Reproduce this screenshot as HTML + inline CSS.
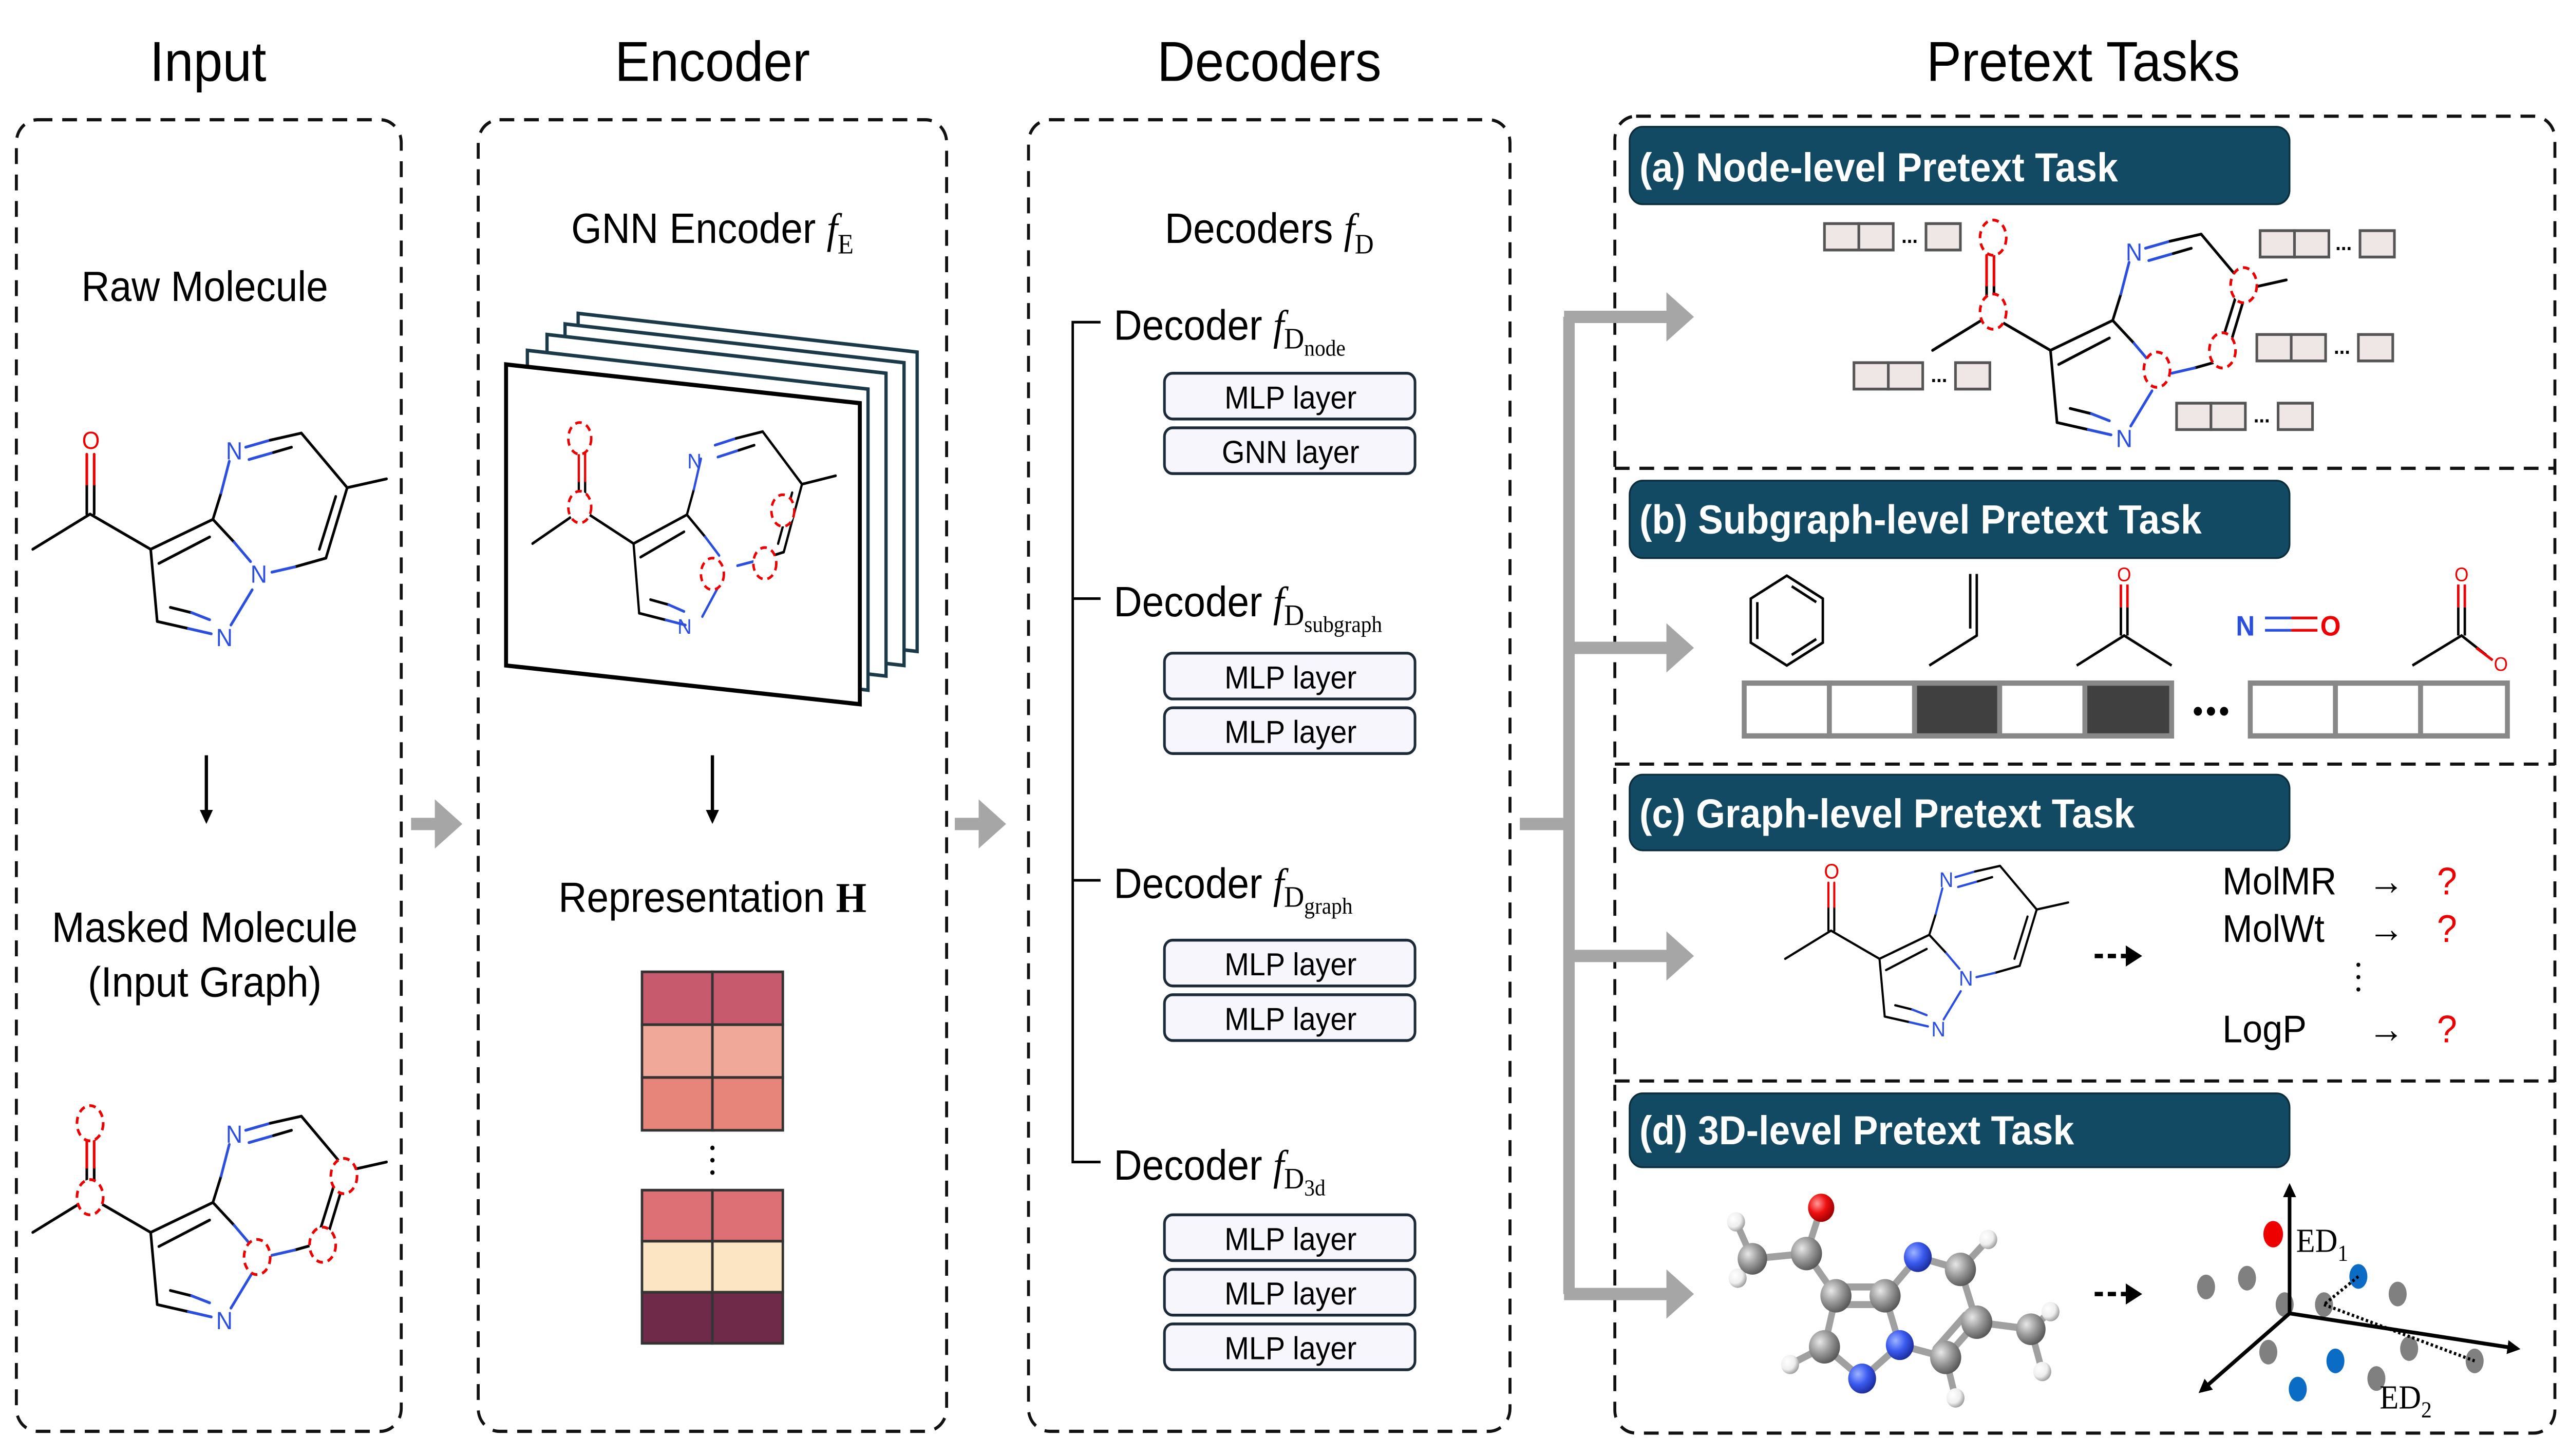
<!DOCTYPE html>
<html><head><meta charset="utf-8"><style>
html,body{margin:0;padding:0;background:#fff;overflow:hidden;width:100vw;height:100vh}
svg{display:block;position:fixed;left:0;top:0;width:100vw;height:100vh}
text{font-family:"Liberation Sans",sans-serif}
.ser{font-family:"Liberation Serif","DejaVu Serif",serif}
</style></head><body>
<svg viewBox="0 0 1568 827" preserveAspectRatio="none" xmlns="http://www.w3.org/2000/svg">
<defs>
<g id="mol" fill="none" stroke-width="1.6" stroke-linecap="round">
  <line x1="20" y1="312" x2="55" y2="292" stroke="#000"/>
  <line x1="53" y1="292" x2="53" y2="275" stroke="#000"/>
  <line x1="53" y1="275" x2="53" y2="258" stroke="#e00"/>
  <line x1="57.5" y1="292" x2="57.5" y2="275" stroke="#000"/>
  <line x1="57.5" y1="275" x2="57.5" y2="258" stroke="#e00"/>
  <line x1="55" y1="292" x2="92" y2="312" stroke="#000"/>
  <line x1="92" y1="312" x2="130" y2="295" stroke="#000"/>
  <line x1="97" y1="320" x2="128" y2="305" stroke="#000"/>
  <line x1="130" y1="295" x2="135" y2="280" stroke="#000"/>
  <line x1="135" y1="280" x2="140" y2="262" stroke="#2a4fe0"/>
  <line x1="150" y1="254" x2="165" y2="250" stroke="#2a4fe0"/>
  <line x1="165" y1="250" x2="184" y2="246" stroke="#000"/>
  <line x1="152" y1="261" x2="167" y2="257" stroke="#2a4fe0"/>
  <line x1="167" y1="257" x2="178" y2="254" stroke="#000"/>
  <line x1="184" y1="246" x2="212" y2="277" stroke="#000"/>
  <line x1="212" y1="277" x2="236" y2="272" stroke="#000"/>
  <line x1="212" y1="277" x2="199" y2="317" stroke="#000"/>
  <line x1="205" y1="282" x2="195" y2="312" stroke="#000"/>
  <line x1="199" y1="317" x2="180" y2="322" stroke="#000"/>
  <line x1="180" y1="322" x2="166" y2="325" stroke="#2a4fe0"/>
  <line x1="130" y1="295" x2="143" y2="308" stroke="#000"/>
  <line x1="143" y1="308" x2="153" y2="319" stroke="#2a4fe0"/>
  <line x1="154" y1="335" x2="141" y2="355" stroke="#2a4fe0"/>
  <line x1="96" y1="353" x2="115" y2="357" stroke="#000"/>
  <line x1="115" y1="357" x2="129" y2="360" stroke="#2a4fe0"/>
  <line x1="104" y1="345" x2="117" y2="348" stroke="#000"/>
  <line x1="117" y1="348" x2="128" y2="352" stroke="#2a4fe0"/>
  <line x1="96" y1="353" x2="92" y2="312" stroke="#000"/>
</g>
<marker id="gh" markerWidth="4" markerHeight="4" refX="1.5" refY="2" orient="auto" markerUnits="strokeWidth"><path d="M0,0 L2.4,2 L0,4 Z" fill="#a6a6a6"/></marker>
<marker id="bh" markerWidth="8" markerHeight="8" refX="6" refY="4" orient="auto" markerUnits="userSpaceOnUse"><path d="M0,0 L8,4 L0,8 Z" fill="#000"/></marker>
<radialGradient id="gG" cx="0.35" cy="0.35" r="0.7"><stop offset="0" stop-color="#e8e8e8"/><stop offset="0.5" stop-color="#9a9a9a"/><stop offset="1" stop-color="#555"/></radialGradient>
<radialGradient id="gB" cx="0.35" cy="0.35" r="0.7"><stop offset="0" stop-color="#9fb4ff"/><stop offset="0.5" stop-color="#3b5cf0"/><stop offset="1" stop-color="#1a2a9a"/></radialGradient>
<radialGradient id="gR" cx="0.35" cy="0.35" r="0.7"><stop offset="0" stop-color="#ff9a9a"/><stop offset="0.5" stop-color="#ee1010"/><stop offset="1" stop-color="#900"/></radialGradient>
<radialGradient id="gW" cx="0.35" cy="0.35" r="0.7"><stop offset="0" stop-color="#fff"/><stop offset="0.6" stop-color="#eee"/><stop offset="1" stop-color="#999"/></radialGradient>
</defs>

<!-- Titles -->
<g font-size="32" text-anchor="middle" fill="#000">
<text x="127" y="46">Input</text>
<text x="435" y="46">Encoder</text>
<text x="775" y="46">Decoders</text>
<text x="1272" y="46">Pretext Tasks</text>
</g>

<!-- Panels -->
<g fill="none" stroke="#111" stroke-width="1.8" stroke-dasharray="9 6">
<rect x="10" y="68" width="235" height="745" rx="13"/>
<rect x="292" y="68" width="286" height="745" rx="13"/>
<rect x="628" y="68" width="294" height="745" rx="13"/>
<rect x="986" y="66" width="574" height="748" rx="13"/>
<line x1="986" y1="266" x2="1560" y2="266"/>
<line x1="986" y1="434" x2="1560" y2="434"/>
<line x1="986" y1="614" x2="1560" y2="614"/>
</g>

<!-- Input panel -->
<text x="125" y="171" font-size="24" text-anchor="middle">Raw Molecule</text>
<use href="#mol"/>
<g font-size="14" text-anchor="middle">
<text x="55.5" y="255" fill="#e00">O</text>
<text x="143" y="261" fill="#2a4fe0">N</text>
<text x="158" y="331" fill="#2a4fe0">N</text>
<text x="137" y="367" fill="#2a4fe0">N</text>
</g>
<line x1="126" y1="429" x2="126" y2="466" stroke="#000" stroke-width="2" marker-end="url(#bh)"/>
<text x="125" y="535" font-size="24" text-anchor="middle">Masked Molecule</text>
<text x="125" y="566" font-size="24" text-anchor="middle">(Input Graph)</text>
<g transform="translate(0,388)"><use href="#mol"/>
<g font-size="14" text-anchor="middle">
<text x="143" y="261" fill="#2a4fe0">N</text>
<text x="137" y="367" fill="#2a4fe0">N</text>
</g>
<g fill="#fff" stroke="#e00" stroke-width="1.6" stroke-dasharray="4 3">
<ellipse cx="55" cy="250" rx="8" ry="10"/>
<ellipse cx="55" cy="292" rx="8" ry="10"/>
<ellipse cx="157" cy="326" rx="8" ry="10"/>
<ellipse cx="197" cy="319" rx="8" ry="10"/>
<ellipse cx="210" cy="280" rx="8" ry="10"/>
</g></g>

<!-- Gray arrows between panels -->
<g stroke="#a6a6a6" stroke-width="7" fill="none">
<line x1="251" y1="468" x2="276" y2="468" marker-end="url(#gh)"/>
<line x1="583" y1="468" x2="608" y2="468" marker-end="url(#gh)"/>
<line x1="928" y1="468" x2="958" y2="468"/>
<line x1="958" y1="180" x2="958" y2="735"/>
<line x1="955" y1="180" x2="1028" y2="180" marker-end="url(#gh)"/>
<line x1="955" y1="368" x2="1028" y2="368" marker-end="url(#gh)"/>
<line x1="955" y1="543" x2="1028" y2="543" marker-end="url(#gh)"/>
<line x1="955" y1="735" x2="1028" y2="735" marker-end="url(#gh)"/>
</g>

<!-- Encoder -->
<text x="435" y="138" font-size="24" text-anchor="middle">GNN Encoder <tspan class="ser" font-style="italic">f</tspan><tspan class="ser" font-size="16" dy="6">E</tspan></text>
<g fill="#fff" stroke="#1a3a4a" stroke-width="2">
<polygon points="353,178 560,200 560,370 353,348"/>
<polygon points="345,184 552,206 552,378 345,356"/>
<polygon points="334,190 541,212 541,384 334,362"/>
<polygon points="322,199 530,221 530,392 322,370"/>
</g>
<polygon points="309,207 525,229 525,400 309,378" fill="#fff" stroke="#000" stroke-width="2.4"/>
<g transform="translate(308,8) scale(0.857,0.964)"><use href="#mol"/></g>
<g font-size="12" text-anchor="middle" fill="#2a4fe0">
<text x="424" y="266">N</text>
<text x="418" y="360">N</text>
</g>
<g fill="#fff" stroke="#e00" stroke-width="1.5" stroke-dasharray="4 3">
<ellipse cx="354" cy="249" rx="7" ry="9"/>
<ellipse cx="354" cy="288" rx="7" ry="9"/>
<ellipse cx="435" cy="326" rx="7" ry="9"/>
<ellipse cx="467" cy="320" rx="7" ry="9"/>
<ellipse cx="478" cy="290" rx="7" ry="9"/>
</g>
<line x1="435" y1="429" x2="435" y2="466" stroke="#000" stroke-width="2" marker-end="url(#bh)"/>
<text x="435" y="518" font-size="24" text-anchor="middle">Representation <tspan class="ser" font-weight="bold">H</tspan></text>
<g stroke="#333" stroke-width="1.5">
<rect x="392" y="552" width="43" height="30" fill="#c85a6e"/><rect x="435" y="552" width="43" height="30" fill="#c85a6e"/>
<rect x="392" y="582" width="43" height="30" fill="#f0a898"/><rect x="435" y="582" width="43" height="30" fill="#f0a898"/>
<rect x="392" y="612" width="43" height="30" fill="#e8857a"/><rect x="435" y="612" width="43" height="30" fill="#e8857a"/>
<rect x="392" y="676" width="43" height="29" fill="#dc7075"/><rect x="435" y="676" width="43" height="29" fill="#dc7075"/>
<rect x="392" y="705" width="43" height="29" fill="#fbe5c3"/><rect x="435" y="705" width="43" height="29" fill="#fbe5c3"/>
<rect x="392" y="734" width="43" height="29" fill="#6e2a48"/><rect x="435" y="734" width="43" height="29" fill="#6e2a48"/>
</g>
<g fill="#000"><circle cx="435" cy="652" r="1.3"/><circle cx="435" cy="659" r="1.3"/><circle cx="435" cy="666" r="1.3"/></g>

<!-- Decoders -->
<text x="775" y="138" font-size="24" text-anchor="middle">Decoders <tspan class="ser" font-style="italic">f</tspan><tspan class="ser" font-size="16" dy="6">D</tspan></text>
<path d="M672,183 H655 V660 H672 M655,340 H672 M655,500 H672" fill="none" stroke="#000" stroke-width="1.5"/>
<g font-size="24">
<text x="680" y="193">Decoder <tspan class="ser" font-style="italic">f</tspan><tspan class="ser" font-size="17" dy="5">D</tspan><tspan class="ser" font-size="13" dy="4">node</tspan></text>
<text x="680" y="350">Decoder <tspan class="ser" font-style="italic">f</tspan><tspan class="ser" font-size="17" dy="5">D</tspan><tspan class="ser" font-size="13" dy="4">subgraph</tspan></text>
<text x="680" y="510">Decoder <tspan class="ser" font-style="italic">f</tspan><tspan class="ser" font-size="17" dy="5">D</tspan><tspan class="ser" font-size="13" dy="4">graph</tspan></text>
<text x="680" y="670">Decoder <tspan class="ser" font-style="italic">f</tspan><tspan class="ser" font-size="17" dy="5">D</tspan><tspan class="ser" font-size="13" dy="4">3d</tspan></text>
</g>
<g fill="#f8f6fd" stroke="#1a2a38" stroke-width="1.6">
<rect x="711" y="212" width="153" height="26" rx="5"/><rect x="711" y="243" width="153" height="26" rx="5"/>
<rect x="711" y="371" width="153" height="26" rx="5"/><rect x="711" y="402" width="153" height="26" rx="5"/>
<rect x="711" y="534" width="153" height="26" rx="5"/><rect x="711" y="565" width="153" height="26" rx="5"/>
<rect x="711" y="690" width="153" height="26" rx="5"/><rect x="711" y="721" width="153" height="26" rx="5"/><rect x="711" y="752" width="153" height="26" rx="5"/>
</g>
<g font-size="18" text-anchor="middle">
<text x="788" y="232">MLP layer</text><text x="788" y="263">GNN layer</text>
<text x="788" y="391">MLP layer</text><text x="788" y="422">MLP layer</text>
<text x="788" y="554">MLP layer</text><text x="788" y="585">MLP layer</text>
<text x="788" y="710">MLP layer</text><text x="788" y="741">MLP layer</text><text x="788" y="772">MLP layer</text>
</g>

<!-- Banners -->
<g fill="#124a63" stroke="#0b2c3b" stroke-width="1">
<rect x="995" y="72" width="403" height="44" rx="8"/>
<rect x="995" y="273" width="403" height="44" rx="8"/>
<rect x="995" y="440" width="403" height="43" rx="8"/>
<rect x="995" y="621" width="403" height="42" rx="8"/>
</g>
<g font-size="23" font-weight="bold" fill="#fff">
<text x="1001" y="103">(a) Node-level Pretext Task</text>
<text x="1001" y="303">(b) Subgraph-level Pretext Task</text>
<text x="1001" y="470">(c) Graph-level Pretext Task</text>
<text x="1001" y="650">(d) 3D-level Pretext Task</text>
</g>

<!-- (a) -->
<g transform="translate(1160,-113)"><use href="#mol"/>
<g font-size="14" text-anchor="middle" fill="#2a4fe0">
<text x="143" y="261">N</text><text x="137" y="367">N</text>
</g></g>
<g fill="#fff" stroke="#e00" stroke-width="1.6" stroke-dasharray="4 3">
<ellipse cx="1217" cy="135" rx="8" ry="10"/>
<ellipse cx="1217" cy="177" rx="8" ry="10"/>
<ellipse cx="1317" cy="210" rx="8" ry="10"/>
<ellipse cx="1357" cy="199" rx="8" ry="10"/>
<ellipse cx="1370" cy="162" rx="8" ry="10"/>
</g>
<g fill="#efe6e6" stroke="#555" stroke-width="1.6">
<rect x="1114" y="127" width="21" height="15"/><rect x="1135" y="127" width="21" height="15"/><rect x="1176" y="127" width="21" height="15"/>
<rect x="1380" y="131" width="21" height="15"/><rect x="1401" y="131" width="21" height="15"/><rect x="1441" y="131" width="21" height="15"/>
<rect x="1378" y="190" width="21" height="15"/><rect x="1399" y="190" width="21" height="15"/><rect x="1440" y="190" width="21" height="15"/>
<rect x="1132" y="206" width="21" height="15"/><rect x="1153" y="206" width="21" height="15"/><rect x="1194" y="206" width="21" height="15"/>
<rect x="1329" y="229" width="21" height="15"/><rect x="1350" y="229" width="21" height="15"/><rect x="1391" y="229" width="21" height="15"/>
</g>
<g font-size="12" text-anchor="middle" font-weight="bold">
<text x="1166" y="138">...</text><text x="1431" y="142">...</text><text x="1430" y="201">...</text><text x="1184" y="217">...</text><text x="1381" y="240">...</text>
</g>

<!-- (b) -->
<g fill="none" stroke="#000" stroke-width="1.5">
<polygon points="1091,327 1113,340 1113,365 1091,378 1069,365 1069,340"/>
<line x1="1094" y1="333" x2="1109" y2="342"/><line x1="1094" y1="372" x2="1109" y2="363"/><line x1="1073" y1="342" x2="1073" y2="363"/>
<polyline points="1178,378 1207,361 1207,326"/><line x1="1203" y1="357" x2="1203" y2="326"/>
<polyline points="1268,378 1297,361 1326,378"/>
<line x1="1295" y1="361" x2="1295" y2="345"/><line x1="1299" y1="361" x2="1299" y2="345"/>
<polyline points="1473,378 1503,361 1518,372"/>
<line x1="1501" y1="361" x2="1501" y2="345"/><line x1="1505" y1="361" x2="1505" y2="345"/>
</g>
<g stroke="#e00" stroke-width="1.5"><line x1="1295" y1="345" x2="1295" y2="332"/><line x1="1299" y1="345" x2="1299" y2="332"/>
<line x1="1501" y1="345" x2="1501" y2="332"/><line x1="1505" y1="345" x2="1505" y2="332"/><line x1="1512" y1="368" x2="1522" y2="375"/>
<line x1="1399" y1="351" x2="1415" y2="351"/><line x1="1399" y1="358" x2="1415" y2="358"/></g>
<g stroke="#2a4fe0" stroke-width="1.5"><line x1="1383" y1="351" x2="1399" y2="351"/><line x1="1383" y1="358" x2="1399" y2="358"/></g>
<g text-anchor="middle" fill="#e00" font-size="11">
<text x="1297" y="330">O</text><text x="1503" y="330">O</text><text x="1527" y="381">O</text>
</g>
<text x="1371" y="361" font-size="16" text-anchor="middle" fill="#2a4fe0" font-weight="bold">N</text>
<text x="1423" y="361" font-size="16" text-anchor="middle" fill="#e00" font-weight="bold">O</text>
<g stroke="#888" stroke-width="3">
<rect x="1065" y="388" width="52" height="30" fill="#fff"/><rect x="1117" y="388" width="52" height="30" fill="#fff"/>
<rect x="1169" y="388" width="52" height="30" fill="#404040"/><rect x="1221" y="388" width="52" height="30" fill="#fff"/>
<rect x="1273" y="388" width="53" height="30" fill="#404040"/>
<rect x="1374" y="388" width="52" height="30" fill="#fff"/><rect x="1426" y="388" width="52" height="30" fill="#fff"/><rect x="1478" y="388" width="53" height="30" fill="#fff"/>
</g>
<g fill="#000"><circle cx="1342" cy="404" r="2.5"/><circle cx="1350" cy="404" r="2.5"/><circle cx="1358" cy="404" r="2.5"/></g>

<!-- (c) -->
<g transform="translate(1074,295) scale(0.8)"><use href="#mol"/>
<g font-size="15" text-anchor="middle">
<text x="55.5" y="255" fill="#e00">O</text>
<text x="143" y="261" fill="#2a4fe0">N</text>
<text x="158" y="331" fill="#2a4fe0">N</text>
<text x="137" y="367" fill="#2a4fe0">N</text>
</g></g>
<line x1="1279" y1="543" x2="1300" y2="543" stroke="#000" stroke-width="2.5" stroke-dasharray="5 3"/>
<path d="M1298,537 L1308,543 L1298,549 Z" fill="#000"/>
<g font-size="22">
<text x="1357" y="508">MolMR</text><text x="1357" y="535">MolWt</text><text x="1357" y="592">LogP</text>
<text x="1446" y="508">→</text><text x="1446" y="535">→</text><text x="1446" y="592">→</text>
</g>
<g font-size="22" fill="#e00"><text x="1488" y="508">?</text><text x="1488" y="535">?</text><text x="1488" y="592">?</text></g>
<g fill="#000"><circle cx="1440" cy="548" r="1.2"/><circle cx="1440" cy="555" r="1.2"/><circle cx="1440" cy="562" r="1.2"/></g>

<!-- (d) 3D molecule -->
<g stroke="#a0a0a0" stroke-width="4" stroke-linecap="round">
<line x1="1103" y1="712" x2="1070" y2="715"/><line x1="1070" y1="715" x2="1060" y2="694"/><line x1="1070" y1="715" x2="1061" y2="726"/>
<line x1="1103" y1="712" x2="1112" y2="686"/><line x1="1103" y1="712" x2="1121" y2="736"/>
<line x1="1121" y1="731" x2="1151" y2="731"/><line x1="1121" y1="741" x2="1151" y2="741"/>
<line x1="1151" y1="736" x2="1171" y2="714"/><line x1="1171" y1="714" x2="1197" y2="721"/>
<line x1="1197" y1="721" x2="1214" y2="704"/><line x1="1197" y1="721" x2="1207" y2="751"/>
<line x1="1207" y1="751" x2="1240" y2="755"/><line x1="1240" y1="755" x2="1252" y2="745"/><line x1="1240" y1="755" x2="1247" y2="779"/>
<line x1="1207" y1="751" x2="1188" y2="771"/><line x1="1200" y1="747" x2="1182" y2="766"/>
<line x1="1188" y1="771" x2="1194" y2="794"/><line x1="1188" y1="771" x2="1160" y2="764"/>
<line x1="1151" y1="736" x2="1160" y2="764"/><line x1="1160" y1="764" x2="1137" y2="783"/>
<line x1="1137" y1="783" x2="1114" y2="765"/><line x1="1121" y1="736" x2="1114" y2="765"/><line x1="1114" y1="765" x2="1093" y2="775"/>
</g>
<circle cx="1060" cy="694" r="5.5" fill="url(#gW)"/><circle cx="1061" cy="726" r="5.5" fill="url(#gW)"/>
<circle cx="1070" cy="715" r="9" fill="url(#gG)"/>
<circle cx="1112" cy="686" r="8" fill="url(#gR)"/>
<circle cx="1103" cy="712" r="9.5" fill="url(#gG)"/>
<circle cx="1121" cy="736" r="9.5" fill="url(#gG)"/><circle cx="1151" cy="736" r="9.5" fill="url(#gG)"/>
<circle cx="1214" cy="704" r="5.5" fill="url(#gW)"/>
<circle cx="1171" cy="714" r="8.5" fill="url(#gB)"/><circle cx="1197" cy="721" r="9.5" fill="url(#gG)"/>
<circle cx="1252" cy="745" r="5.5" fill="url(#gW)"/><circle cx="1247" cy="779" r="5.5" fill="url(#gW)"/>
<circle cx="1240" cy="755" r="9" fill="url(#gG)"/><circle cx="1207" cy="751" r="9.5" fill="url(#gG)"/>
<circle cx="1194" cy="794" r="5.5" fill="url(#gW)"/><circle cx="1188" cy="771" r="9.5" fill="url(#gG)"/>
<circle cx="1093" cy="775" r="5.5" fill="url(#gW)"/><circle cx="1114" cy="765" r="9.5" fill="url(#gG)"/>
<circle cx="1160" cy="764" r="8.5" fill="url(#gB)"/><circle cx="1137" cy="783" r="8.5" fill="url(#gB)"/>
<line x1="1279" y1="735" x2="1300" y2="735" stroke="#000" stroke-width="2.5" stroke-dasharray="5 3"/>
<path d="M1298,729 L1308,735 L1298,741 Z" fill="#000"/>
<!-- axes -->
<g fill="#808080">
<ellipse cx="1347" cy="731" rx="5.5" ry="7"/><ellipse cx="1372" cy="726" rx="5.5" ry="7"/><ellipse cx="1395" cy="741" rx="5.5" ry="7"/>
<ellipse cx="1419" cy="741" rx="5.5" ry="7"/><ellipse cx="1464" cy="735" rx="5.5" ry="7"/><ellipse cx="1385" cy="768" rx="5.5" ry="7"/>
<ellipse cx="1471" cy="766" rx="5.5" ry="7"/><ellipse cx="1511" cy="773" rx="5.5" ry="7"/><ellipse cx="1451" cy="783" rx="5.5" ry="7"/>
</g>
<g fill="#0a6cc4"><ellipse cx="1440" cy="725" rx="5.5" ry="7"/><ellipse cx="1426" cy="773" rx="5.5" ry="7"/><ellipse cx="1403" cy="789" rx="5.5" ry="7"/></g>
<ellipse cx="1388" cy="701" rx="6" ry="7.5" fill="#ee0000"/>
<g stroke="#000" stroke-width="1.8" stroke-dasharray="1.5 1.5"><line x1="1440" y1="725" x2="1419" y2="741"/><line x1="1419" y1="741" x2="1511" y2="773"/></g>
<g stroke="#000" stroke-width="2.2" fill="none">
<line x1="1398" y1="746" x2="1398" y2="674" marker-end="url(#bh)"/>
<line x1="1398" y1="746" x2="1537" y2="766" marker-end="url(#bh)"/>
<line x1="1398" y1="746" x2="1344" y2="790" marker-end="url(#bh)"/>
</g>
<text x="1402" y="711" font-size="19" class="ser">ED<tspan font-size="13" dy="5">1</tspan></text>
<text x="1453" y="800" font-size="19" class="ser">ED<tspan font-size="13" dy="5">2</tspan></text>
</svg>
</body></html>
